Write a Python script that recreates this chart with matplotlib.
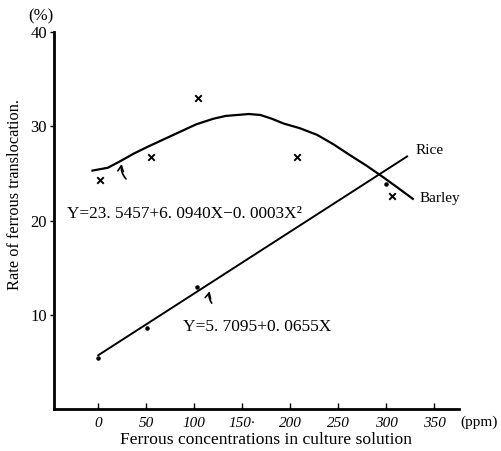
import numpy as np
import matplotlib
matplotlib.use('Agg')
import matplotlib.pyplot as plt

plt.rcParams['font.family'] = ['Liberation Serif', 'DejaVu Serif']

# rice (dots) and regression line
rice_x = [0, 51, 103, 300]
rice_y = [5.4, 8.6, 12.9, 23.9]
rice_a, rice_b = 5.7095, 0.0655
rice_line_x = [0, 322]

# barley (crosses) and curve
barley_x = [2, 55, 104, 207, 306]
barley_y = [24.3, 26.7, 33.0, 26.7, 22.6]
barley_curve_x = [-6, 10, 23, 37, 51, 68, 85, 102, 120, 133, 145, 157, 169, 181, 193, 210, 228, 245, 263, 280, 297, 312, 328]
barley_curve_y = [25.3, 25.6, 26.3, 27.1, 27.8, 28.6, 29.4, 30.2, 30.8, 31.1, 31.2, 31.3, 31.2, 30.8, 30.3, 29.8, 29.1, 28.1, 26.9, 25.8, 24.6, 23.5, 22.3]

xticks = [0, 50, 100, 150, 200, 250, 300, 350]
xtick_labels = ['0', '50', '100', '150·', '200', '250', '300', '350']
yticks = [10, 20, 30, 40]

fig = plt.figure(figsize=(5.01, 4.51), dpi=100)
ax = fig.add_axes([0.108, 0.093, 0.808, 0.836])

ax.plot(barley_curve_x, barley_curve_y, color='black', lw=1.6)
ax.scatter(barley_x, barley_y, marker='x', color='black', s=22, lw=1.4)

rx = np.array(rice_line_x)
ax.plot(rx, rice_a + rice_b * rx, color='black', lw=1.4)
ax.scatter(rice_x, rice_y, marker='o', color='black', s=5)

ax.set_xlim(-46, 376)
ax.set_ylim(0, 40)
for s in ['top', 'right']:
    ax.spines[s].set_visible(False)
for s in ['left', 'bottom']:
    ax.spines[s].set_linewidth(2)

ax.set_xticks(xticks)
ax.set_xticklabels(xtick_labels, fontstyle='italic', fontsize=11)
ax.set_yticks(yticks)
ax.set_yticklabels([str(v) for v in yticks], fontsize=12)
ax.tick_params(axis='x', direction='in', length=4, width=1, pad=6)
ax.tick_params(axis='y', direction='out', length=3, width=1, pad=2)

ax.text(378, -1.45, '(ppm)', fontsize=11, ha='left', va='center', clip_on=False)
ax.text(-60, 41.7, '(%)', fontsize=12, ha='center', va='center', clip_on=False)

fig.text(266 / 501, 1 - 440 / 451, 'Ferrous concentrations in culture solution',
         fontsize=12.6, ha='center', va='center')
fig.text(15 / 501, 1 - 195 / 451, 'Rate of ferrous translocation.',
         fontsize=11.8, ha='center', va='center', rotation=90)

ax.text(-33, 20.7, 'Y=23. 5457+6. 0940X−0. 0003X²', fontsize=12.4, ha='left', va='center')
ax.text(88, 8.7, 'Y=5. 7095+0. 0655X', fontsize=12.5, ha='left', va='center')
ax.text(331, 27.4, 'Rice', fontsize=11, ha='left', va='center')
ax.text(335, 22.3, 'Barley', fontsize=11, ha='left', va='center')

ax.annotate('', xy=(25, 26.3), xytext=(31, 24.2),
            arrowprops=dict(arrowstyle='->', lw=1.2, color='black',
                            connectionstyle='arc3,rad=-0.3'))
ax.annotate('', xy=(117, 12.8), xytext=(120, 11.0),
            arrowprops=dict(arrowstyle='->', lw=1.2, color='black',
                            connectionstyle='arc3,rad=-0.3'))

fig.savefig('out.png', dpi=100)
